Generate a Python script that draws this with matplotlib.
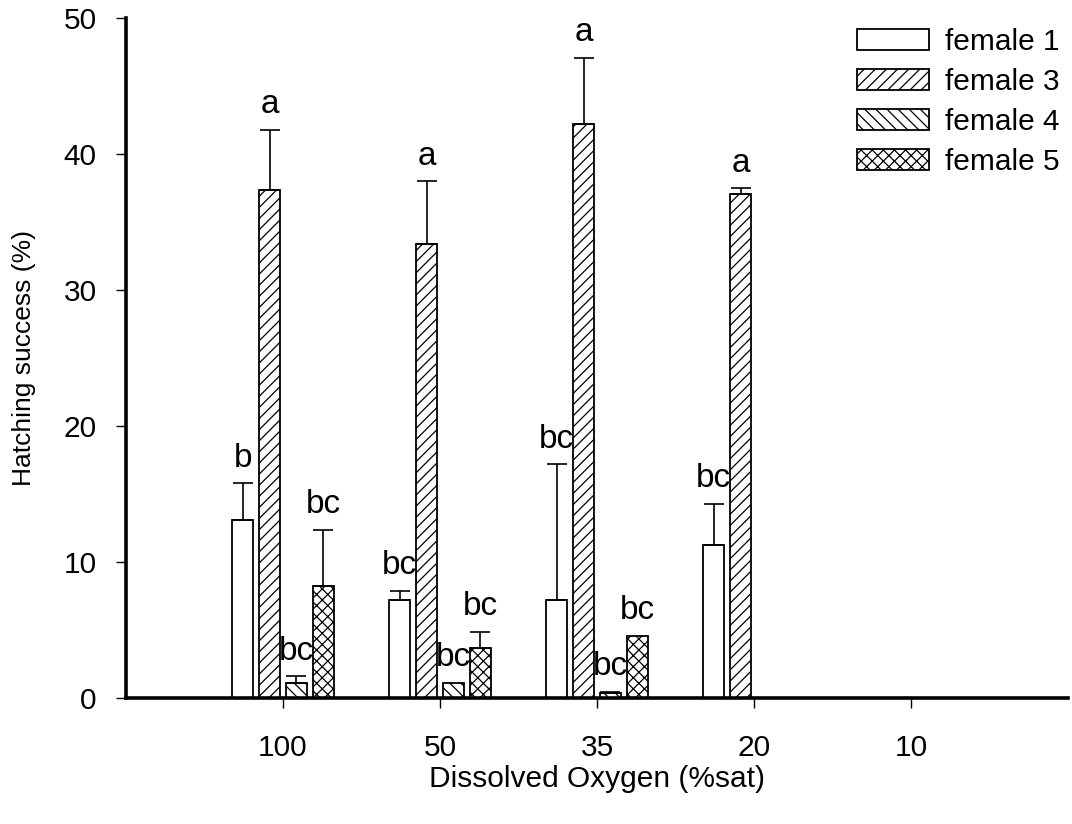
import numpy as np
import matplotlib
matplotlib.use("Agg")
import matplotlib.pyplot as plt

plt.rcParams["font.family"] = ["Liberation Sans", "DejaVu Sans"]
plt.rcParams["hatch.linewidth"] = 0.9

oxygen = ["100", "50", "35", "20", "10"]
series = ["female 1", "female 3", "female 4", "female 5"]
nan = np.nan
f1 = [13.1, 7.2, 7.2, 11.3, nan]
f3 = [37.4, 33.4, 42.2, 37.1, nan]
f4 = [1.1, 1.15, 0.37, nan, nan]
f5 = [8.25, 3.67, 4.57, nan, nan]
f1_err = [2.7, 0.7, 10.0, 3.0, nan]
f3_err = [4.4, 4.6, 4.9, 0.4, nan]
f4_err = [0.5, nan, 0.11, nan, nan]
f5_err = [4.15, 1.22, nan, nan, nan]
f1_sig = ["b", "bc", "bc", "bc", None]
f3_sig = ["a", "a", "a", "a", None]
f4_sig = ["bc", "bc", "bc", None, None]
f5_sig = ["bc", "bc", "bc", None, None]

vals = [f1, f3, f4, f5]
errs = [f1_err, f3_err, f4_err, f5_err]
sigs = [f1_sig, f3_sig, f4_sig, f5_sig]
hatches = ["", "///", "\\\\\\", "xxx"]

fig = plt.figure(figsize=(10.72, 8.24), dpi=100)
ax = fig.add_axes([0.1175, 0.1526, 0.9963 - 0.1175, 0.9778 - 0.1526])

x = np.arange(len(oxygen))
w, step = 0.132, 0.171
offs = (np.arange(4) - 1.5) * step

for v, e, s, h, lab, o in zip(vals, errs, sigs, hatches, series, offs):
    v = np.array(v, float); e = np.array(e, float)
    ok = ~np.isnan(v)
    ax.bar(x[ok] + o, v[ok], width=w, facecolor="white", edgecolor="black",
           hatch=h, lw=1.3, label=lab, zorder=2)
    ke = ok & ~np.isnan(e)
    ax.errorbar(x[ke] + o, v[ke], yerr=[np.zeros(ke.sum()), e[ke]], fmt="none",
                ecolor="black", elinewidth=1.2, capsize=7.5, capthick=1.2, zorder=3)
    for i in np.where(ok)[0]:
        if s[i] is None:
            continue
        top = v[i] + (0 if np.isnan(e[i]) else e[i])
        ax.annotate(s[i], (x[i] + o, top), xytext=(0, 12), textcoords="offset points",
                    ha="center", va="baseline", fontsize=24)

ax.set_xlim(-1, 5)
ax.set_ylim(0, 50)
ax.set_yticks([0, 10, 20, 30, 40, 50])
ax.set_xticks(x)
ax.set_xticklabels(oxygen)
ax.tick_params(axis="y", direction="out", length=7, width=1, pad=14, labelsize=21.5)
ax.tick_params(axis="x", direction="out", length=7, width=1, pad=19, labelsize=21.5)
for sp in ["top", "right"]:
    ax.spines[sp].set_visible(False)
for sp in ["left", "bottom"]:
    ax.spines[sp].set_linewidth(2.6)

ax.set_xlabel("Dissolved Oxygen (%sat)", fontsize=21.5, labelpad=2)
ax.set_ylabel("Hatching success (%)", fontsize=19, labelpad=20)

ax.legend(loc="upper left", bbox_to_anchor=(857 / 1072, 1 - 28 / 824),
          bbox_transform=fig.transFigure, frameon=False, fontsize=21.5,
          handlelength=2.4, handleheight=0.7, handletextpad=0.55,
          labelspacing=0.4, borderpad=0, borderaxespad=0)

fig.savefig("out.png", dpi=100, facecolor="white")
